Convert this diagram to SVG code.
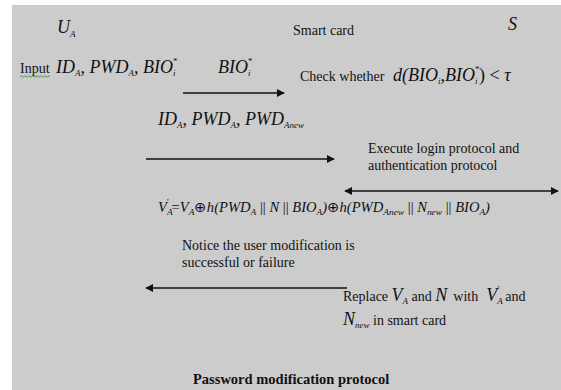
<svg xmlns="http://www.w3.org/2000/svg" width="561" height="390" viewBox="0 0 561 390">
<style>
.t{font-family:"Liberation Serif","Times New Roman",serif;font-size:14px;fill:#111}
.m{font-family:"Liberation Serif","Times New Roman",serif;font-style:italic;font-size:18px;fill:#111}
.f{font-family:"Liberation Serif","Times New Roman",serif;font-style:italic;font-size:14px;fill:#111}
.s{font-size:9px}
.b{font-family:"Liberation Serif","Times New Roman",serif;font-weight:bold;font-size:14.5px;fill:#111}
.ln{stroke:#111;stroke-width:1.3;fill:none}
</style>
<defs>
<marker id="ah" viewBox="0 0 10 10" refX="9" refY="5" markerWidth="8" markerHeight="8" markerUnits="userSpaceOnUse" orient="auto-start-reverse">
<path d="M0,0 L10,5 L0,10 Z" fill="#111"/>
</marker>
</defs>
<rect x="0" y="0" width="561" height="390" fill="#ffffff"/>
<rect x="12" y="5" width="549" height="385" fill="#cccccc"/>

<g id="user"><text x="57" y="33" class="m" font-size="19">U<tspan class="s" font-size="10" dy="4">A</tspan></text></g>
<g id="smartcard"><text x="293" y="35" class="t">Smart card</text></g>
<g id="server"><text x="508" y="30" class="m" font-size="19">S</text></g>

<g id="input">
<text x="20" y="73" class="t">Input</text>
<path d="M20,76.5 q1,-1.5 2,0 t2,0 t2,0 t2,0 t2,0 t2,0 t2,0 t2,0 t2,0 t2,0 t2,0 t2,0 t2,0 t2,0 t2,0" stroke="#3a8a3a" stroke-width="0.8" fill="none"/>
<text x="56" y="73" class="m">ID<tspan class="s" dy="3">A</tspan><tspan dy="-3">, PWD</tspan><tspan class="s" dy="3">A</tspan><tspan dy="-3">, BIO</tspan><tspan class="s" dy="3">i</tspan><tspan class="s" dx="-3" dy="-12">*</tspan></text>
</g>
<g id="bio"><text x="218" y="73" class="m">BIO<tspan class="s" dy="3">i</tspan><tspan class="s" dx="-3" dy="-12">*</tspan></text></g>
<g id="check">
<text x="300" y="81" class="t">Check whether</text>
<text x="393" y="81" class="m">d(BIO<tspan class="s" dy="3">i</tspan><tspan dy="-3">,BIO</tspan><tspan class="s" dy="3">i</tspan><tspan class="s" dx="-3" dy="-12">*</tspan><tspan dy="9" font-style="normal">) &lt; </tspan>τ</text>
</g>
<g id="idpwd"><text x="158" y="125" class="m">ID<tspan class="s" dy="3">A</tspan><tspan dy="-3">, PWD</tspan><tspan class="s" dy="3">A</tspan><tspan dy="-3">, PWD</tspan><tspan class="s" dy="3">Anew</tspan></text></g>
<g id="execute">
<text x="368" y="153" class="t">Execute login protocol and</text>
<text x="368" y="170" class="t">authentication protocol</text>
</g>
<g id="formula"><text x="158" y="212" class="f" textLength="332" lengthAdjust="spacingAndGlyphs">V<tspan class="s" dy="3">A</tspan><tspan class="s" dx="-6" dy="-10">'</tspan><tspan dx="3" dy="7" font-style="normal">=</tspan>V<tspan class="s" dy="3">A</tspan><tspan dy="-3" font-style="normal">⊕</tspan>h(PWD<tspan class="s" dy="3">A</tspan><tspan dy="-3" font-style="normal"> || </tspan>N<tspan font-style="normal"> || </tspan>BIO<tspan class="s" dy="3">A</tspan><tspan dy="-3">)</tspan><tspan font-style="normal">⊕</tspan>h(PWD<tspan class="s" dy="3">Anew</tspan><tspan dy="-3" font-style="normal"> || </tspan>N<tspan class="s" dy="3">new</tspan><tspan dy="-3" font-style="normal"> || </tspan>BIO<tspan class="s" dy="3">A</tspan><tspan dy="-3">)</tspan></text></g>
<g id="notice">
<text x="182" y="250" class="t">Notice the user modification is</text>
<text x="182" y="267" class="t">successful or failure</text>
</g>
<g id="replace">
<text x="343" y="301" class="t">Replace <tspan class="m">V</tspan><tspan class="m s" dy="3">A</tspan><tspan dy="-3"> and </tspan><tspan class="m">N</tspan><tspan dx="6">with</tspan><tspan class="m" dx="8">V</tspan><tspan class="m s" dy="3">A</tspan><tspan class="s" dx="-5" dy="-12">'</tspan><tspan dx="6" dy="9">and</tspan></text>
<text x="343" y="325" class="t"><tspan class="m">N</tspan><tspan class="m s" dy="3">new</tspan><tspan dy="-3"> in smart card</tspan></text>
</g>
<g id="title"><text x="193" y="384" class="b">Password modification protocol</text></g>

<g id="connectors">
<line x1="183" y1="93" x2="284" y2="93" class="ln" marker-end="url(#ah)"/>
<line x1="146" y1="159" x2="334" y2="159" class="ln" marker-end="url(#ah)"/>
<line x1="345" y1="191" x2="558" y2="191" class="ln" marker-start="url(#ah)" marker-end="url(#ah)"/>
<line x1="347" y1="288" x2="146" y2="288" class="ln" marker-end="url(#ah)"/>
</g>
</svg>
